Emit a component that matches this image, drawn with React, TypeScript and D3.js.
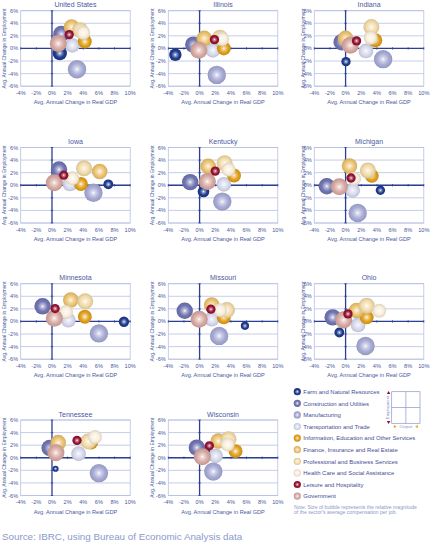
import React from "react";
import * as d3 from "d3";

const sectors = [
  "Farm and Natural Resources",
  "Construction and Utilities",
  "Manufacturing",
  "Transportation and Trade",
  "Information, Education and Other Services",
  "Finance, Insurance and Real Estate",
  "Professional and Business Services",
  "Health Care and Social Assistance",
  "Leisure and Hospitality",
  "Government",
];

const sectorColors = [
  "#1f3c8e",
  "#7176b3",
  "#a9acd6",
  "#d7d9ed",
  "#e2a11c",
  "#edc470",
  "#f3dcaa",
  "#f9eedc",
  "#961232",
  "#d9aba4",
];

// relative average compensation per job (thousand $), non-farm sectors
const sectorCompensation = [0, 56, 70, 45, 40, 50, 53, 40, 18, 60];

const stateNames = [
  "United States", "Illinois", "Indiana",
  "Iowa", "Kentucky", "Michigan",
  "Minnesota", "Missouri", "Ohio",
  "Tennessee", "Wisconsin",
];

// farm compensation varies by state
const farmCompensation = [42, 32, 18, 20, 28, 18, 22, 14, 20, 8, 16];

// GDP change and employment change per sector, in the sector order above
const unitedStatesGDP = [1.0, 1.2, 3.2, 2.6, 4.2, 2.5, 3.6, 4.0, 2.2, 0.8];
const unitedStatesEmp = [-0.75, 2.3, -3.3, 0.5, 1.1, 3.4, 2.9, 2.5, 2.2, 0.8];
const illinoisGDP = [-3.1, -0.8, 2.2, 1.7, 3.1, 0.6, 2.6, 2.9, 1.9, -0.1];
const illinoisEmp = [-1.0, 0.6, -4.2, -0.3, 0.0, 1.6, 1.7, 1.5, 1.4, -0.3];
const indianaGDP = [0.05, -0.5, 4.8, 2.6, 3.8, 0.0, 3.3, 3.2, 1.4, 0.6];
const indianaEmp = [-2.1, 1.0, -1.7, -0.4, 1.3, 1.6, 3.4, 1.7, 1.2, 0.5];
const iowaGDP = [7.2, 0.9, 5.3, 2.3, 3.7, 6.1, 4.1, 2.6, 1.5, 0.3];
const iowaEmp = [0.15, 2.5, -1.2, 0.2, 0.2, 2.2, 2.7, 1.1, 1.6, 0.4];
const kentuckyGDP = [0.5, -1.2, 2.9, 3.1, 4.4, 1.1, 3.2, 3.7, 2.0, 1.0];
const kentuckyEmp = [-1.0, 0.5, -2.6, 0.15, 1.55, 3.0, 3.5, 2.5, 2.25, 0.6];
const michiganGDP = [4.45, -2.4, 1.55, 0.9, 3.35, 0.5, 2.85, 1.1, 0.7, -0.8];
const michiganEmp = [-0.8, -0.15, -4.4, -0.8, 1.5, 3.05, 2.35, 1.05, 1.15, -0.25];
const minnesotaGDP = [9.2, -1.2, 6.0, 2.1, 4.2, 2.4, 4.25, 1.8, 0.4, 0.3];
const minnesotaEmp = [-0.05, 2.4, -1.9, 0.2, 0.75, 3.4, 3.2, 1.5, 2.05, 0.5];
const missouriGDP = [5.8, -1.9, 2.5, 1.55, 3.1, 1.55, 3.5, 2.6, 1.45, -0.05];
const missouriEmp = [-0.7, 1.7, -2.3, 0.35, 0.65, 2.6, 1.8, 1.8, 1.95, 0.35];
const ohioGDP = [-0.8, -1.65, 2.55, 1.6, 2.7, 1.4, 2.7, 4.3, 0.3, -0.25];
const ohioEmp = [-1.75, 0.65, -3.9, -0.55, 0.65, 1.75, 2.5, 1.7, 1.2, 0.25];
const tennesseeGDP = [0.45, -0.3, 6.0, 3.4, 5.0, 0.8, 4.65, 5.5, 3.2, 0.5];
const tennesseeEmp = [-1.75, 1.55, -2.45, 0.65, 2.4, 2.4, 2.6, 3.3, 2.75, 0.8];
const wisconsinGDP = [0.8, -0.35, 1.75, 2.05, 4.6, 2.4, 3.7, 3.6, 1.25, 0.35];
const wisconsinEmp = [1.2, 1.6, -2.2, 0.3, 1.05, 2.65, 2.95, 2.1, 1.9, 0.15];

const gdpTicks = [-4, -2, 0, 2, 4, 6, 8, 10];
const empTicks = [6, 4, 2, 0, -2, -4, -6];

const stateGDP = [unitedStatesGDP, illinoisGDP, indianaGDP, iowaGDP, kentuckyGDP, michiganGDP,
  minnesotaGDP, missouriGDP, ohioGDP, tennesseeGDP, wisconsinGDP];
const stateEmp = [unitedStatesEmp, illinoisEmp, indianaEmp, iowaEmp, kentuckyEmp, michiganEmp,
  minnesotaEmp, missouriEmp, ohioEmp, tennesseeEmp, wisconsinEmp];

const W = 431;
const H = 543;
const colLeft = [20.7, 168.3, 314.3];
const rowTop = [10.7, 147.5, 283.7, 420];
const PW = 109.5;
const PH = 75.5;
const titleOffset = [15.2, 14.8, 9.5];

const FONT = "'Liberation Sans', Arial, sans-serif";
const TEXT = "#4a58a0";
const GRID = "#b8c0e2";
const AXIS = "#2c3f94";

const drawOrder = [0, 1, 2, 3, 4, 5, 6, 7, 9, 8];

const rScale = d3.scaleSqrt().domain([0, 70]).range([0, 9.2]);

function Panel({ idx }: { idx: number }) {
  const col = idx % 3;
  const row = Math.floor(idx / 3);
  const left = colLeft[col];
  const top = rowTop[row];
  const x = d3.scaleLinear().domain([-4, 10]).range([left, left + PW]);
  const y = d3.scaleLinear().domain([-6, 6]).range([top + PH, top]);
  const gdp = stateGDP[idx];
  const emp = stateEmp[idx];
  const comp = sectorCompensation.map((c, i) => (i === 0 ? farmCompensation[idx] : c));
  return (
    <g>
      <text x={left + PW / 2} y={top - 3.5} textAnchor="middle" fontSize={7} fill={TEXT} fontFamily={FONT}>
        {stateNames[idx]}
      </text>
      <rect x={left} y={top} width={PW} height={PH} fill="#fff" stroke={GRID} strokeWidth={0.8} />
      {empTicks.map((t) => (
        <line key={"g" + t} x1={left} x2={left + PW} y1={y(t)} y2={y(t)} stroke={GRID} strokeWidth={0.8} />
      ))}
      <line x1={x(0)} x2={x(0)} y1={top} y2={top + PH} stroke={AXIS} strokeWidth={1.3} />
      <line x1={left} x2={left + PW} y1={y(0)} y2={y(0)} stroke={AXIS} strokeWidth={1.3} />
      {gdpTicks.map((t) => (
        <line key={"tx" + t} x1={x(t)} x2={x(t)} y1={y(0) - 1.2} y2={y(0) + 1.2} stroke={AXIS} strokeWidth={0.8} />
      ))}
      {empTicks.map((t) => (
        <line key={"ty" + t} x1={x(0) - 1.2} x2={x(0) + 1.2} y1={y(t)} y2={y(t)} stroke={AXIS} strokeWidth={0.8} />
      ))}
      {empTicks.map((t) => (
        <text key={"ly" + t} x={left - 2.5} y={y(t) + 2} textAnchor="end" fontSize={5.6} fill={TEXT} fontFamily={FONT}>
          {t + "%"}
        </text>
      ))}
      {gdpTicks.map((t) => (
        <text key={"lx" + t} x={x(t)} y={top + PH + 8.5} textAnchor="middle" fontSize={5.6} fill={TEXT} fontFamily={FONT}>
          {t + "%"}
        </text>
      ))}
      <text x={left + PW / 2} y={top + PH + 18} textAnchor="middle" fontSize={5.6} fill={TEXT} fontFamily={FONT}>
        Avg. Annual Change in Real GDP
      </text>
      <text
        transform={`translate(${left - titleOffset[col]},${top + PH / 2}) rotate(-90)`}
        textAnchor="middle"
        fontSize={5}
        fill={TEXT}
        fontFamily={FONT}
      >
        Avg. Annual Change in Employment
      </text>
      {drawOrder.map((i) => (
        <circle key={"b" + i} cx={x(gdp[i])} cy={y(emp[i])} r={rScale(comp[i])} fill={`url(#grad${i})`} />
      ))}
    </g>
  );
}

export default function App() {
  const legendX = 297.3;
  const legendY0 = 391.7;
  const legendStep = 11.6;
  return (
    <svg
      width={W}
      height={H}
      viewBox={`0 0 ${W} ${H}`}
      style={{ position: "absolute", left: 0, top: 0, background: "#fff" }}
    >
      <defs>
        {sectorColors.map((c, i) => {
          const base = d3.color(c)!;
          return (
            <radialGradient key={i} id={`grad${i}`} cx="50%" cy="50%" r="50%">
              <stop offset="0%" stopColor="#ffffff" />
              <stop offset="18%" stopColor={d3.interpolateRgb("#ffffff", c)(0.45)} />
              <stop offset="62%" stopColor={c} />
              <stop offset="100%" stopColor={base.darker(0.35).formatHex()} />
            </radialGradient>
          );
        })}
      </defs>
      {stateNames.map((_, i) => (
        <Panel key={i} idx={i} />
      ))}
      {/* Legend */}
      {sectors.map((s, i) => (
        <g key={s}>
          <circle cx={legendX} cy={legendY0 + i * legendStep} r={3.6} fill={`url(#grad${i})`} />
          <text x={legendX + 6} y={legendY0 + i * legendStep + 2.2} fontSize={5.95} fill="#3f4d95" fontFamily={FONT}>
            {s}
          </text>
        </g>
      ))}
      {/* Inset quadrant key */}
      <g>
        <rect x={391.7} y={391.7} width={28.3} height={31.6} fill="none" stroke="#8c94c8" strokeWidth={0.7} />
        <line x1={405.85} x2={405.85} y1={391.7} y2={423.3} stroke="#8c94c8" strokeWidth={0.7} />
        <line x1={391.7} x2={420} y1={407.5} y2={407.5} stroke="#8c94c8" strokeWidth={0.7} />
        <text
          transform="translate(388.6,407.5) rotate(-90)"
          textAnchor="middle"
          fontSize={4.2}
          fill="#8c94c8"
          fontFamily={FONT}
        >
          Employment
        </text>
        <path d="M386.8,394 l1.8,-3 l1.8,3 z" fill="#961232" />
        <path d="M386.8,421 l1.8,3 l1.8,-3 z" fill="#961232" />
        <text x={405.85} y={428} textAnchor="middle" fontSize={4.2} fill="#8c94c8" fontFamily={FONT}>
          Output
        </text>
        <path d="M396.5,426.6 l-2.6,-1.6 l0,3.2 z" fill="#e2a11c" />
        <path d="M415.2,426.6 l2.6,-1.6 l0,3.2 z" fill="#e2a11c" />
      </g>
      <text x={294} y={508.5} fontSize={5.1} fill="#8c98c8" fontFamily={FONT}>
        Note: Size of bubble represents the relative magnitude
      </text>
      <text x={294} y={514} fontSize={5.1} fill="#8c98c8" fontFamily={FONT}>
        of the sector's average compensation per job.
      </text>
      <text x={2} y={540} fontSize={9.8} fill="#8a9acb" fontFamily={FONT} fontWeight={300}>
        Source: IBRC, using Bureau of Economic Analysis data
      </text>
    </svg>
  );
}
